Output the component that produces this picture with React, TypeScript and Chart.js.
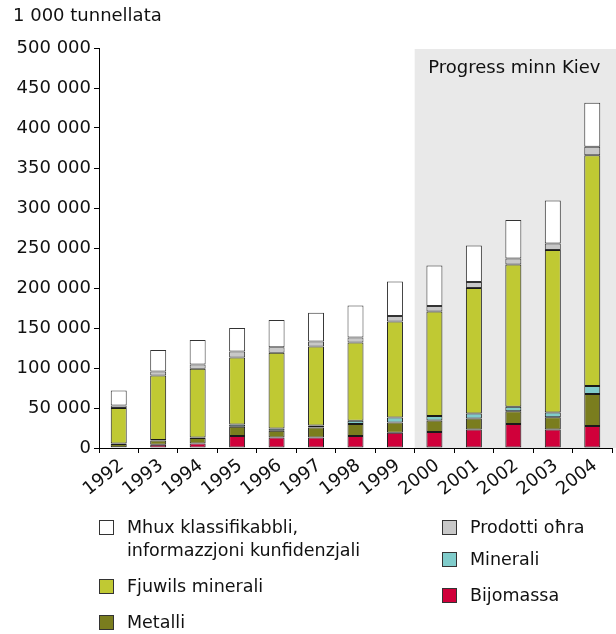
import React, { useEffect, useRef } from 'react';
import { Chart, registerables } from 'chart.js';

Chart.register(...registerables);

const years = ['1992', '1993', '1994', '1995', '1996', '1997', '1998', '1999', '2000', '2001', '2002', '2003', '2004'];
const biomass = [1000, 4000, 5500, 15000, 13000, 13000, 15000, 19000, 20000, 23000, 30000, 23000, 27500];
const metals = [4000, 5500, 7000, 11500, 8500, 12500, 15000, 13000, 14500, 14000, 16000, 15500, 40000];
const minerals = [500, 500, 500, 3000, 3000, 2500, 4000, 6000, 5500, 6000, 5500, 6000, 10000];
const fuels = [44500, 80500, 86000, 83500, 94500, 99000, 98000, 120000, 130500, 157000, 178000, 203000, 288500];
const otherProducts = [3000, 5000, 5500, 7500, 7000, 6000, 6000, 7000, 7000, 7500, 7500, 8000, 10500];
const unclassified = [19000, 27000, 30500, 29500, 34000, 36000, 40000, 43000, 50500, 45500, 48000, 54000, 55000];

const seriesNames = {
  unclassified: ['Mhux klassifikabbli,', 'informazzjoni kunfidenzjali'],
  fuels: 'Fjuwils minerali',
  metals: 'Metalli',
  other: 'Prodotti oħra',
  minerals: 'Minerali',
  biomass: 'Bijomassa',
};
const yTitle = '1 000 tunnellata';
const regionLabel = 'Progress minn Kiev';
const regionStartIndex = 8;

const FONT = '"DejaVu Sans", Verdana, sans-serif';
const FS = 18;
const LFS = 17.5;
const colors = {
  biomass: '#d0003a',
  metals: '#7a7d1e',
  minerals: '#80cccb',
  fuels: '#c0c933',
  other: '#c8c8c8',
  unclassified: '#ffffff',
};

function fmt(v: number) {
  return String(Math.round(v)).replace(/\B(?=(\d{3})+(?!\d))/g, ' ');
}

export default function App() {
  const ref = useRef<HTMLCanvasElement>(null);
  useEffect(() => {
    document.body.style.margin = '0';
    const canvas = ref.current!;

    const shadePlugin = {
      id: 'shade',
      beforeDraw(chart: any) {
        const { ctx, chartArea, scales } = chart;
        const xs = scales.x;
        const left = (xs.getPixelForValue(regionStartIndex - 1) + xs.getPixelForValue(regionStartIndex)) / 2;
        ctx.save();
        ctx.fillStyle = '#e9e9e9';
        ctx.fillRect(left, chartArea.top + 1, chart.width - left, chartArea.bottom - chartArea.top - 1);
        ctx.fillStyle = '#111';
        ctx.font = `${FS}px ${FONT}`;
        ctx.textAlign = 'center';
        ctx.textBaseline = 'middle';
        ctx.fillText(regionLabel, (left + chart.width) / 2 - 1, chartArea.top + 20);
        ctx.textAlign = 'left';
        ctx.fillText(yTitle, 13, 16);
        ctx.restore();
      },
    };

    const legendPlugin = {
      id: 'customLegend',
      afterDraw(chart: any) {
        const { ctx } = chart;
        const ds = chart.data.datasets;
        const byKey: Record<string, any> = {};
        ds.forEach((d: any) => (byKey[d.key] = d));
        const items = [
          { key: 'unclassified', x: 99, y: 527, lines: seriesNames.unclassified },
          { key: 'fuels', x: 99, y: 586, lines: [seriesNames.fuels] },
          { key: 'metals', x: 99, y: 622, lines: [seriesNames.metals] },
          { key: 'other', x: 442, y: 527, lines: [seriesNames.other] },
          { key: 'minerals', x: 442, y: 559, lines: [seriesNames.minerals] },
          { key: 'biomass', x: 442, y: 595, lines: [seriesNames.biomass] },
        ];
        ctx.save();
        ctx.font = `${LFS}px ${FONT}`;
        ctx.textBaseline = 'middle';
        ctx.textAlign = 'left';
        items.forEach((it) => {
          const d = byKey[it.key];
          ctx.fillStyle = d.backgroundColor;
          ctx.fillRect(it.x, it.y - 7, 14, 14);
          ctx.strokeStyle = '#333';
          ctx.lineWidth = 1;
          ctx.strokeRect(it.x + 0.5, it.y - 6.5, 14, 14);
          ctx.fillStyle = '#111';
          it.lines.forEach((ln: string, i: number) => {
            ctx.fillText(ln, it.x + 28, it.y + 1 + i * 23);
          });
        });
        ctx.restore();
      },
    };

    const mk = (key: string, label: string, data: number[], border = '#1a1a1a') => ({
      key,
      label,
      data,
      backgroundColor: (colors as any)[key],
      borderColor: border,
      borderWidth: 1,
      borderSkipped: false,
      stack: 's',
      barPercentage: 0.405,
      categoryPercentage: 1,
    });

    const chart = new Chart(canvas, {
      type: 'bar',
      data: {
        labels: years,
        datasets: [
          mk('biomass', seriesNames.biomass, biomass),
          mk('metals', seriesNames.metals, metals),
          mk('minerals', seriesNames.minerals, minerals),
          mk('fuels', seriesNames.fuels, fuels),
          mk('other', seriesNames.other, otherProducts, '#333'),
          mk('unclassified', seriesNames.unclassified.join(' '), unclassified, '#333'),
        ] as any,
      },
      options: {
        animation: false,
        responsive: false,
        layout: { padding: { top: 48, right: 4, bottom: 134, left: 0 } },
        plugins: { legend: { display: false }, tooltip: { enabled: false }, title: { display: false } },
        scales: {
          x: {
            stacked: true,
            grid: { drawOnChartArea: false, tickLength: 5, color: '#000', offset: true },
            border: { color: '#000', width: 1 },
            ticks: {
              color: '#111',
              font: { family: FONT, size: FS },
              minRotation: 38,
              maxRotation: 38,
              autoSkip: false,
              padding: 2,
              labelOffset: 3,
            },
            afterFit: (s: any) => {
              s.height = 52;
            },
          },
          y: {
            stacked: true,
            min: 0,
            max: 500000,
            grid: { drawOnChartArea: false, tickLength: 5, color: '#000' },
            border: { color: '#000', width: 1 },
            ticks: {
              stepSize: 50000,
              color: '#111',
              font: { family: FONT, size: FS },
              padding: 3,
              callback: (v: any) => fmt(Number(v)),
            },
            afterFit: (s: any) => {
              s.width = 99;
            },
          },
        },
      },
      plugins: [shadePlugin, legendPlugin],
    });
    return () => chart.destroy();
  }, []);
  return <canvas ref={ref} width={616} height={634} style={{ display: 'block' }} />;
}
